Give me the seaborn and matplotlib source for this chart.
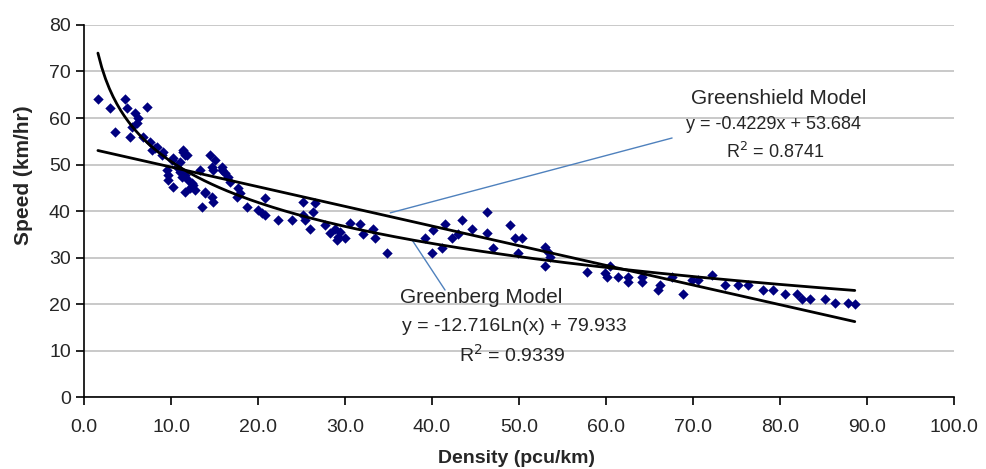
import numpy as np
import pandas as pd
import seaborn as sns
import matplotlib.pyplot as plt

# density (pcu/km) and speed (km/hr)
density = [1.6, 3.0, 4.7, 4.9, 7.2, 5.9, 6.2, 6.1, 3.6, 5.5, 5.3, 6.8, 7.6, 7.8, 8.4,
           9.1, 9.0, 11.4, 11.6, 11.4, 11.8, 10.1, 9.5, 9.7, 9.7, 10.7, 11.0, 11.0,
           11.6, 12.0, 12.4, 10.2, 11.6, 12.8, 13.6, 13.9, 13.3, 14.5, 14.8, 15.1,
           14.7, 14.7, 14.8, 15.9, 16.2, 16.6, 16.8, 15.9, 17.7, 17.9, 17.6, 18.7,
           20.0, 20.8, 20.8, 20.5, 22.3, 23.9, 25.2, 26.6, 26.3, 25.2, 25.4, 26.0,
           27.7, 28.3, 28.9, 29.2, 29.4, 29.1, 30.0, 30.6, 31.7, 32.1, 33.2, 33.4,
           34.8, 39.2, 40.0, 40.1, 41.1, 41.5, 42.3, 43.0, 43.4, 44.6, 46.3, 46.3,
           47.0, 49.0, 49.5, 50.3, 49.9, 53.0, 53.3, 53.6, 53.0, 57.8, 59.9, 60.1,
           60.5, 61.4, 62.5, 62.5, 64.1, 64.1, 66.2, 66.0, 67.6, 68.9, 69.9, 70.6,
           72.2, 73.7, 75.2, 76.3, 78.0, 79.2, 80.6, 82.0, 82.5, 83.4, 85.2, 86.3,
           87.8, 88.6, 8.2, 12.2, 11.3, 12.5, 13.9, 10.2]
speed = [64.1, 62.2, 64.1, 62.2, 62.4, 61.1, 60.0, 59.0, 57.0, 58.0, 56.0, 55.9, 54.8, 53.1, 53.8,
         52.7, 52.0, 52.7, 52.0, 53.1, 52.0, 51.0, 48.8, 47.7, 46.7, 49.5, 48.4, 50.5,
         47.7, 46.7, 46.0, 45.2, 44.0, 44.5, 40.9, 43.9, 48.8, 52.0, 48.8, 51.0,
         49.5, 43.0, 41.9, 48.8, 48.2, 47.3, 46.2, 49.5, 44.9, 43.9, 43.0, 40.9,
         40.2, 42.8, 39.1, 39.6, 38.1, 38.1, 41.9, 41.7, 39.8, 39.1, 38.1, 36.1,
         37.0, 35.3, 36.1, 34.4, 35.5, 33.8, 34.2, 37.4, 37.2, 35.0, 36.1, 34.2,
         31.0, 34.2, 31.0, 35.9, 32.0, 37.2, 34.2, 35.0, 38.1, 36.1, 39.8, 35.3,
         32.0, 37.0, 34.2, 34.2, 31.0, 32.3, 31.2, 30.1, 28.2, 26.9, 26.7, 25.8,
         28.2, 25.8, 25.8, 24.7, 25.8, 24.7, 24.1, 23.0, 25.8, 22.2, 25.2, 25.2,
         26.2, 24.1, 24.1, 24.1, 23.0, 23.0, 22.2, 22.2, 21.1, 21.1, 21.1, 20.2,
         20.2, 20.0, 53.5, 45.0, 47.3, 45.6, 44.0, 51.4]

# trend line coefficients printed on the chart
greenshield_slope, greenshield_icpt = -0.4229, 53.684
greenberg_coef, greenberg_icpt = -12.716, 79.933
x_ticks = [0, 10, 20, 30, 40, 50, 60, 70, 80, 90, 100]
y_ticks = [0, 10, 20, 30, 40, 50, 60, 70, 80]

df = pd.DataFrame({"density": density, "speed": speed})
xfit = np.linspace(min(density), max(density), 200)
fits = pd.DataFrame({
    "x": xfit,
    "greenshield": greenshield_slope * xfit + greenshield_icpt,
    "greenberg": greenberg_coef * np.log(xfit) + greenberg_icpt,
})

sns.set_style("white")
plt.rcParams["font.family"] = ["Liberation Sans", "DejaVu Sans"]

fig = plt.figure(figsize=(9.86, 4.69), dpi=100)
ax = fig.add_axes([0.0852, 0.1535, 0.8823, 0.7932])

sns.scatterplot(data=df, x="density", y="speed", marker="D", s=28, color="#00007f",
                edgecolor="#00007f", linewidth=0, ax=ax, zorder=3)
sns.lineplot(data=fits, x="x", y="greenshield", color="black", linewidth=2, ax=ax, zorder=4)
sns.lineplot(data=fits, x="x", y="greenberg", color="black", linewidth=2, ax=ax, zorder=4)

ax.set_xlim(0, 100)
ax.set_ylim(0, 80)
ax.set_xticks(x_ticks)
ax.set_xticklabels([f"{t:.1f}" for t in x_ticks], fontsize=14)
ax.set_yticks(y_ticks)
ax.set_yticklabels([str(t) for t in y_ticks], fontsize=14)
ax.yaxis.grid(True, color="#c0c0c0", linewidth=1.2)
ax.xaxis.grid(False)
for s in ["top", "right"]:
    ax.spines[s].set_visible(False)
for s in ["left", "bottom"]:
    ax.spines[s].set_color("black")
    ax.spines[s].set_linewidth(1.2)
ax.tick_params(axis="both", direction="out", length=6, width=1.2, color="black",
               bottom=True, left=True)
ax.tick_params(axis="x", pad=10)
ax.set_xlabel("Density (pcu/km)", fontweight="bold", fontsize=14)
ax.set_ylabel("Speed (km/hr)", fontweight="bold", fontsize=15)
ax.xaxis.set_label_coords(0.497, -0.142)
ax.yaxis.set_label_coords(-0.059, 0.597)

# annotations with leader lines
ax.plot([35.2, 67.6], [39.6, 55.7], color="#4f81bd", linewidth=1, zorder=2)
ax.plot([37.7, 41.5], [33.8, 23.0], color="#4f81bd", linewidth=1, zorder=2)
tkw = dict(ha="center", va="center", color="#262626")
ax.text(79.9, 64.1, "Greenshield Model", fontsize=15, **tkw)
ax.text(79.3, 58.5, "y = -0.4229x + 53.684", fontsize=13, **tkw)
ax.text(79.4, 52.6, "R$^2$ = 0.8741", fontsize=13, **tkw)
ax.text(45.6, 21.3, "Greenberg Model", fontsize=15, **tkw)
ax.text(49.5, 15.1, "y = -12.716Ln(x) + 79.933", fontsize=14, **tkw)
ax.text(49.2, 9.0, "R$^2$ = 0.9339", fontsize=14, **tkw)

fig.savefig("out.png", dpi=100)
